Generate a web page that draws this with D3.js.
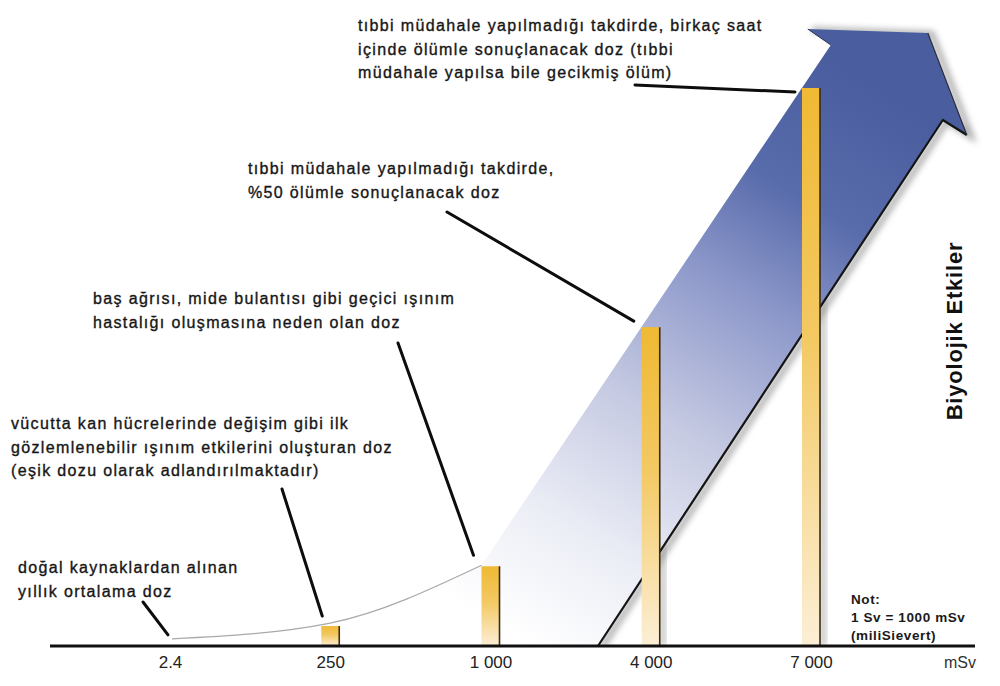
<!DOCTYPE html>
<html>
<head>
<meta charset="utf-8">
<script src="https://cdn.jsdelivr.net/npm/d3@7/dist/d3.min.js"></script>
<style>
html,body{margin:0;padding:0;background:#fff;}
svg{display:block;}
</style>
</head>
<body>
<svg id="chart" width="1000" height="686"></svg>
<script>
// ---------- data ----------
const categories = ["2.4", "250", "1 000", "4 000", "7 000"];
const doses = [2.4, 250, 1000, 4000, 7000];
const descriptions = [
  ["doğal kaynaklardan alınan", "yıllık ortalama doz"],
  ["vücutta kan hücrelerinde değişim gibi ilk", "gözlemlenebilir ışınım etkilerini oluşturan doz", "(eşik dozu olarak adlandırılmaktadır)"],
  ["baş ağrısı, mide bulantısı gibi geçici ışınım", "hastalığı oluşmasına neden olan doz"],
  ["tıbbi müdahale yapılmadığı takdirde,", "%50 ölümle sonuçlanacak doz"],
  ["tıbbi müdahale yapılmadığı takdirde, birkaç saat", "içinde ölümle sonuçlanacak doz (tıbbi", "müdahale yapılsa bile gecikmiş ölüm)"]
];
const unitLabel = "mSv";
const effectTitle = "Biyolojik Etkiler";
const noteLines = ["Not:", "1 Sv = 1000 mSv", "(miliSievert)"];

// ---------- layout (positions only) ----------
const labelLayout = [
  {x: 18,  y: 573, from: [143, 602], to: [-2, -11]},
  {x: 11,  y: 429, from: [282, 489], to: [-8, -10]},
  {x: 93,  y: 304, from: [398, 343], to: [-17, -11]},
  {x: 248, y: 174, from: [447, 212], to: [-17, -6]},
  {x: 358, y: 31,  from: [635, 85],  to: [-16, 4]}
];
const lineGap = 23.5;

const svg = d3.select("#chart");
const defs = svg.append("defs");

const x = d3.scalePoint().domain(categories).range([170, 811]);
const y = d3.scaleLinear().domain([0, 7000]).range([646, 88]);
const barW = 18;

// gradients
const ag = defs.append("linearGradient").attr("id", "arrowGrad")
  .attr("gradientUnits", "userSpaceOnUse")
  .attr("x1", 520).attr("y1", 640).attr("x2", 860).attr("y2", 80);
[[0, "#ffffff"], [0.18, "#eceef6"], [0.4, "#c6cae2"], [0.62, "#8f9acb"], [0.8, "#586bab"], [1, "#4a5e9f"]]
  .forEach(([o, c]) => ag.append("stop").attr("offset", o).attr("stop-color", c));

const bg = defs.append("linearGradient").attr("id", "barGrad")
  .attr("x1", 0).attr("y1", 0).attr("x2", 0).attr("y2", 1);
[[0, "#efb933"], [0.45, "#f3c963"], [1, "#fcefd6"]]
  .forEach(([o, c]) => bg.append("stop").attr("offset", o).attr("stop-color", c));

const blur = defs.append("filter").attr("id", "blur").attr("x", "-20%").attr("y", "-20%").attr("width", "140%").attr("height", "140%");
blur.append("feGaussianBlur").attr("stdDeviation", 3);
defs.append("clipPath").attr("id", "aboveBase").append("rect")
  .attr("x", 0).attr("y", 0).attr("width", 1000).attr("height", 645);

// ---------- arrow geometry from scales ----------
const base = y(0);
const curvePts = [
  [x(categories[0]) + 2, y(doses[0]) - 7],
  [x(categories[1]), y(doses[1]) - 3],
  [x(categories[2]) - barW / 2, y(doses[2]) - 1]
];
const pA = [x(categories[2]) - barW / 2, y(doses[2])];
const pB = [x(categories[4]) - barW / 2, y(doses[4])];
const slope = (pB[0] - pA[0]) / (pB[1] - pA[1]);
const notchY = 45;
const notchL = [pA[0] + (notchY - pA[1]) * slope, notchY];
const barbL = [notchL[0] - 23, notchL[1] - 16];
const tip = [notchL[0] + 97, notchL[1] - 12];
const barbR = [notchL[0] + 136, notchL[1] + 90];
const notchR = [notchL[0] + 112, notchL[1] + 75];
const baseR = [598, base];

const curveStr = d3.line().curve(d3.curveMonotoneX)(curvePts);
const arrowPath = curveStr +
  [notchL, barbL, tip, barbR, notchR, baseR, [curvePts[0][0], base]].map(p => `L${p[0]},${p[1]}`).join("") + "Z";

// bar shadows (visible only outside arrow)
svg.append("g").attr("clip-path", "url(#aboveBase)").selectAll("rect")
  .data(doses.slice(3)).join("rect")
  .attr("x", (d, i) => x(categories[i + 3]) + barW / 2)
  .attr("y", d => y(d))
  .attr("width", 6).attr("height", d => base - y(d))
  .attr("fill", "#9a9a9a").attr("opacity", 0.6).attr("filter", "url(#blur)");

// arrow shadow
svg.append("g").attr("clip-path", "url(#aboveBase)")
  .append("path")
  .attr("d", "M" + [baseR, notchR, barbR, tip, barbL].map(p => p.join(",")).join("L"))
  .attr("transform", "translate(4,1)")
  .attr("fill", "none").attr("stroke", "#8a8a8a").attr("stroke-width", 6)
  .attr("opacity", 0.7).attr("filter", "url(#blur)");

// arrow body
svg.append("path").attr("d", arrowPath).attr("fill", "url(#arrowGrad)");

// thin grey trend curve
svg.append("path").attr("d", curveStr).attr("fill", "none")
  .attr("stroke", "#a9a9a9").attr("stroke-width", 1.2);

// dark outlines on the right side
svg.append("path")
  .attr("d", "M" + [baseR, notchR, barbR].map(p => p.join(",")).join("L"))
  .attr("fill", "none").attr("stroke", "#141414").attr("stroke-width", 2.2).attr("stroke-linejoin", "round");
svg.append("path")
  .attr("d", "M" + [tip, barbR].map(p => p.join(",")).join("L"))
  .attr("fill", "none").attr("stroke", "#2a2a3a").attr("stroke-width", 1.2);
svg.append("path")
  .attr("d", "M" + [barbL, notchL].map(p => p.join(",")).join("L"))
  .attr("fill", "none").attr("stroke", "#2a3050").attr("stroke-width", 1);

// ---------- bars ----------
const bars = svg.append("g");
bars.selectAll("rect").data(doses).join("rect")
  .attr("x", (d, i) => x(categories[i]) - barW / 2)
  .attr("y", d => y(d))
  .attr("width", barW)
  .attr("height", d => base - y(d))
  .attr("fill", "url(#barGrad)");
bars.selectAll("line").data(doses).join("line")
  .attr("x1", (d, i) => x(categories[i]) + barW / 2)
  .attr("x2", (d, i) => x(categories[i]) + barW / 2)
  .attr("y1", d => y(d)).attr("y2", base)
  .attr("stroke", "#3b2c12").attr("stroke-width", 1.6)
  .attr("opacity", d => d > 10 ? 1 : 0);

// ---------- axis ----------
svg.append("line").attr("x1", 50).attr("x2", 975).attr("y1", base).attr("y2", base)
  .attr("stroke", "#111").attr("stroke-width", 3);
const axis = svg.append("g").attr("transform", `translate(0,${base})`)
  .call(d3.axisBottom(x).tickSize(0).tickPadding(0));
axis.select(".domain").remove();
axis.selectAll("text")
  .attr("y", 22).attr("dy", 0)
  .attr("font-family", "Liberation Sans, Arial, sans-serif")
  .attr("font-size", 17).attr("fill", "#222");
svg.append("text").attr("x", 960).attr("y", base + 22).attr("text-anchor", "middle")
  .attr("font-family", "Liberation Sans, Arial, sans-serif").attr("font-size", 16)
  .attr("fill", "#333").text(unitLabel);

// ---------- labels + leader lines ----------
const lab = svg.append("g").attr("font-family", "Liberation Sans, Arial, sans-serif")
  .attr("font-size", 16).attr("fill", "#161616").attr("letter-spacing", 1.35)
  .attr("stroke", "#161616").attr("stroke-width", 0.35);
descriptions.forEach((lines, i) => {
  const L = labelLayout[i];
  const t = lab.append("text").attr("x", L.x).attr("y", L.y);
  lines.forEach((s, j) => t.append("tspan").attr("x", L.x).attr("y", L.y + j * lineGap).text(s));
  svg.append("line")
    .attr("x1", L.from[0]).attr("y1", L.from[1])
    .attr("x2", x(categories[i]) + L.to[0]).attr("y2", y(doses[i]) + L.to[1])
    .attr("stroke", "#0d0d0d").attr("stroke-width", 3).attr("stroke-linecap", "round");
});

// ---------- vertical title ----------
svg.append("text")
  .attr("transform", "translate(962,331) rotate(-90)")
  .attr("text-anchor", "middle")
  .attr("font-family", "Liberation Sans, Arial, sans-serif")
  .attr("font-weight", "bold").attr("font-size", 22).attr("letter-spacing", 0.8).attr("fill", "#111")
  .text(effectTitle);

// ---------- note ----------
const note = svg.append("text").attr("font-family", "Liberation Sans, Arial, sans-serif")
  .attr("font-weight", "bold").attr("font-size", 13.5).attr("letter-spacing", 0.6).attr("fill", "#1a1a1a");
noteLines.forEach((s, j) => note.append("tspan").attr("x", 851).attr("y", 604 + j * 18).text(s));
</script>
</body>
</html>
